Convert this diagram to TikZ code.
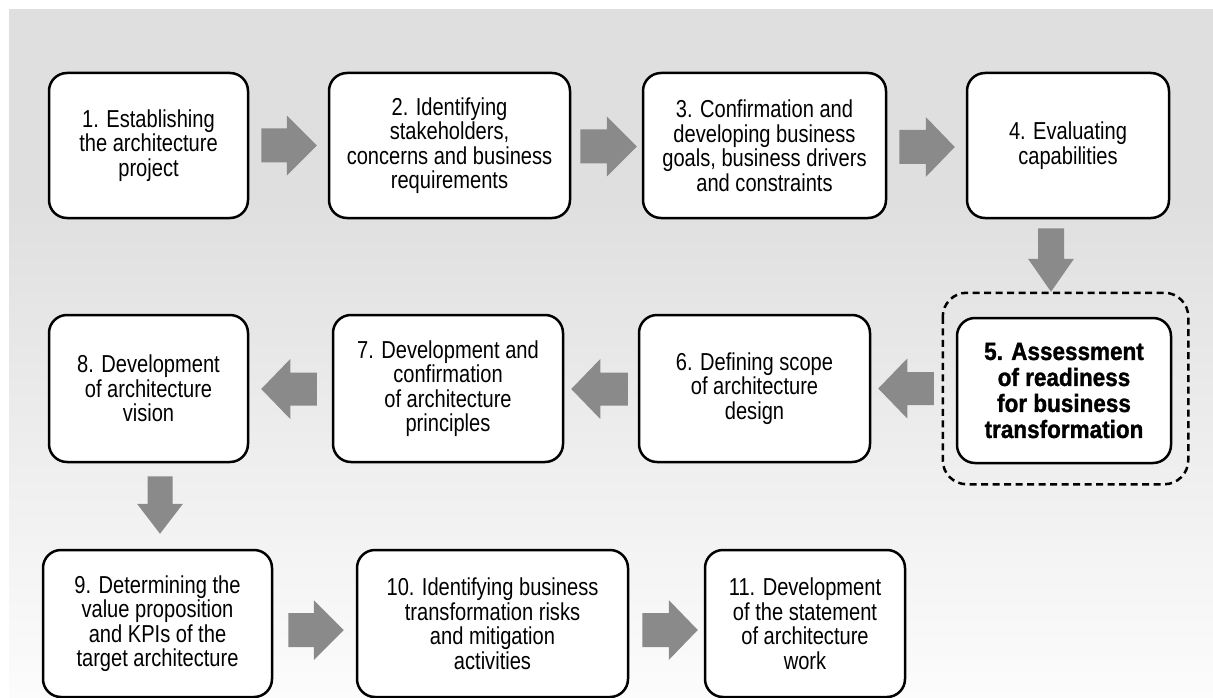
\documentclass[tikz,border=0pt]{standalone}
\usepackage{fontspec}
\setmainfont{Liberation Sans}
% narrow face for the step labels, heavier face for the highlighted step
\newfontfamily\stepfont[FakeStretch=0.82]{Liberation Sans}
\newfontfamily\keyfont[FakeStretch=0.9, BoldFeatures={FakeBold=1.2}]{Liberation Sans}
\usetikzlibrary{calc}

\definecolor{bgtop}{RGB}{223,223,223}
\definecolor{bgbot}{RGB}{252,252,252}
\definecolor{flowgray}{RGB}{138,138,138}

\tikzset{
  x=1pt, y=-1pt,
  stepbox/.style={draw=black, line width=2.5pt, fill=white, rounded corners=18pt,
    align=center, inner sep=0pt, text=black,
    font=\stepfont\fontsize{24.5}{24.5}\selectfont},
  keybox/.style={stepbox, font=\keyfont\bfseries\fontsize{25}{26}\selectfont},
  focusframe/.style={draw=black, line width=2.5pt, dash pattern=on 7pt off 4.5pt,
    rounded corners=24pt},
}

% fat block arrow: #1 tail, #2 tip, #3 half shaft width, #4 half head width, #5 head length
\newcommand\blockarrow[5]{%
  \coordinate (ba-h) at ($#2!#5!#1$);
  \fill[flowgray] ($#1!#3!90:#2$) -- ($(ba-h)!#3!90:#2$) -- ($(ba-h)!#4!90:#2$)
    -- #2 -- ($(ba-h)!#4!-90:#2$) -- ($(ba-h)!#3!-90:#2$) -- ($#1!#3!-90:#2$) -- cycle;}

\begin{document}
\begin{tikzpicture}
\useasboundingbox (0,0) rectangle (1213,698);
\clip (0,0) rectangle (1213,698);

% backdrop: flat grey above, fading to white further down
\fill[white] (0,0) rectangle (1213,698);
\fill[bgtop] (9,9) rectangle (1213,200);
\shade[top color=bgtop, bottom color=bgbot] (9,199) rectangle (1213,698);

% row 1
\node[stepbox, minimum width=199, minimum height=145] (b1) at (148.5,145.5)
  {1. Establishing\\the architecture\\project};
\node[stepbox, minimum width=241, minimum height=145] (b2) at (449.5,145.5)
  {2. Identifying\\stakeholders,\\concerns and business\\requirements};
\node[stepbox, minimum width=243, minimum height=145] (b3) at (764.5,145.5)
  {3. Confirmation and\\developing business\\goals, business drivers\\and constraints};
\node[stepbox, minimum width=202, minimum height=145] (b4) at (1068,145.5)
  {4. Evaluating\\capabilities};

% row 2
\node[keybox, minimum width=214, minimum height=145] (b5) at (1064,390.5)
  {5. Assessment\\of readiness\\for business\\transformation};
\draw[focusframe] ($(b5.north west)+(-13,-24)$) rectangle ($(b5.south east)+(16,20)$);
\coordinate (frameN) at ($(b5.north)+(1.5,-24)$);
\coordinate (frameW) at ($(b5.west)+(-13,-2)$);
\node[stepbox, minimum width=231, minimum height=147] (b6) at (754.5,388.5)
  {6. Defining scope\\of architecture\\design};
\node[stepbox, minimum width=230, minimum height=147] (b7) at (448,388.5)
  {7. Development and\\confirmation\\of architecture\\principles};
\node[stepbox, minimum width=199, minimum height=147] (b8) at (148.5,388.5)
  {8. Development\\of architecture\\vision};

% row 3
\node[stepbox, minimum width=229, minimum height=147] (b9) at (157.5,623.5)
  {9. Determining the\\value proposition\\and KPIs of the\\target architecture};
\node[stepbox, minimum width=271, minimum height=147] (b10) at (492.5,623.5)
  {10. Identifying business\\transformation risks\\and mitigation\\activities};
\node[stepbox, minimum width=200, minimum height=147] (b11) at (805,623.5)
  {11. Development\\of the statement\\of architecture\\work};

% flow arrows
\coordinate (t12) at ($(b1.east)+(12,0)$);   \coordinate (p12) at ($(b2.west)+(-11,0)$);
\coordinate (t23) at ($(b2.east)+(9,1)$);    \coordinate (p23) at ($(b3.west)+(-5,1)$);
\coordinate (t34) at ($(b3.east)+(12,1.5)$); \coordinate (p34) at ($(b4.west)+(-11,1.5)$);
\coordinate (t45) at ($(b4.south)+(-17,9)$); \coordinate (p45) at ($(t45 |- frameN)+(0,-1)$);
\coordinate (t56) at ($(frameW)+(-9,0)$);    \coordinate (p56) at ($(t56 -| b6.east)+(7,0)$);
\coordinate (t67) at ($(b6.west)+(-10,0.5)$); \coordinate (p67) at ($(b7.east)+(7,0.5)$);
\coordinate (t78) at ($(b7.west)+(-15,0.5)$); \coordinate (p78) at ($(b8.east)+(12,0.5)$);
\coordinate (t89) at ($(b8.south)+(11.5,13)$); \coordinate (p89) at ($(t89 |- b9.north)+(0,-15)$);
\coordinate (t910) at ($(b9.east)+(15,6.5)$); \coordinate (p910) at ($(b10.west)+(-12,6.5)$);
\coordinate (t1011) at ($(b10.east)+(13,6.5)$); \coordinate (p1011) at ($(b11.west)+(-6,6.5)$);

\blockarrow{(t12)}{(p12)}{17pt}{30pt}{30pt}
\blockarrow{(t23)}{(p23)}{17pt}{30pt}{30pt}
\blockarrow{(t34)}{(p34)}{17pt}{30pt}{29pt}
\blockarrow{(t45)}{(p45)}{13pt}{23pt}{33pt}
\blockarrow{(t56)}{(p56)}{16.5pt}{30pt}{29pt}
\blockarrow{(t67)}{(p67)}{16.5pt}{30pt}{29pt}
\blockarrow{(t78)}{(p78)}{16.5pt}{30pt}{29pt}
\blockarrow{(t89)}{(p89)}{12.5pt}{23pt}{30pt}
\blockarrow{(t910)}{(p910)}{17pt}{30pt}{30pt}
\blockarrow{(t1011)}{(p1011)}{17pt}{30pt}{29pt}
\end{tikzpicture}
\end{document}
